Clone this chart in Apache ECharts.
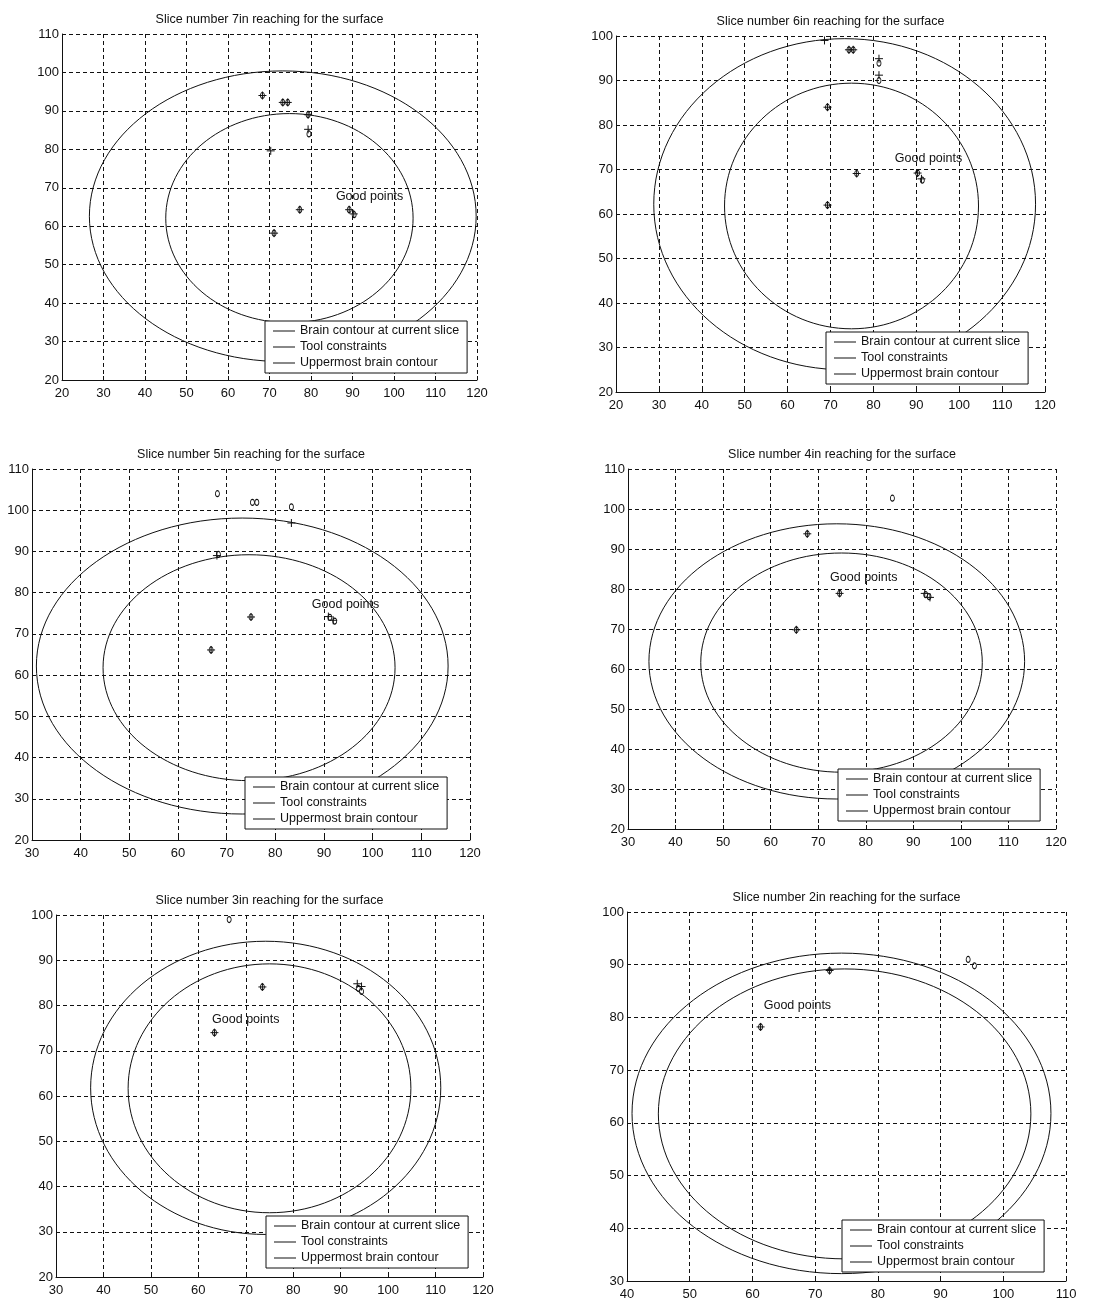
<!DOCTYPE html>
<html>
<head>
<meta charset="utf-8">
<script src="https://cdn.jsdelivr.net/npm/echarts@6/dist/echarts.min.js"></script>
<style>
html,body{margin:0;padding:0;background:#fff;}
#chart{width:1108px;height:1301px;}
</style>
</head>
<body>
<div id="chart"></div>
<script>
// ---------- data ----------
const panelTitles = [
  'Slice number 7in reaching for the surface',
  'Slice number 6in reaching for the surface',
  'Slice number 5in reaching for the surface',
  'Slice number 4in reaching for the surface',
  'Slice number 3in reaching for the surface',
  'Slice number 2in reaching for the surface'
];
const xRanges = [[20, 120], [20, 120], [30, 120], [30, 120], [30, 120], [40, 110]];
const yRanges = [[20, 110], [20, 100], [20, 110], [20, 110], [20, 100], [30, 100]];

// contours: [centre x, centre y, half width, half height]
const currentSliceContours = [
  [73.2, 62.6, 46.6, 37.8],
  [73.3, 62.2, 44.5, 37.2],
  [73.2, 62.2, 42.3, 35.9],
  [73.9, 61.9, 39.5, 34.4],
  [74.2, 61.8, 36.9, 32.4],
  [74.2, 61.8, 33.4, 30.4]
];
const uppermostContours = [
  [74.8, 62.1, 29.8, 27.2],
  [74.9, 61.8, 29.6, 27.6],
  [74.6, 61.8, 30.0, 27.4],
  [74.9, 61.6, 29.6, 27.4],
  [75.0, 61.7, 29.8, 27.5],
  [74.7, 61.7, 29.7, 27.5]
];

const plusPoints = [
  [[68.3, 94.0], [73.2, 92.2], [74.4, 92.2], [79.3, 89.0], [79.3, 85.2], [70.3, 79.6], [77.3, 64.3], [89.2, 64.3], [90.3, 63.2], [71.1, 58.2]],
  [[68.6, 99.0], [74.3, 96.9], [75.3, 96.9], [81.3, 94.9], [81.3, 91.2], [69.3, 84.0], [76.1, 69.1], [90.3, 69.2], [91.2, 67.9], [69.3, 62.0]],
  [[83.3, 96.9], [68.0, 89.0], [75.0, 74.1], [90.9, 74.2], [91.9, 73.3], [66.8, 66.1]],
  [[67.7, 93.8], [74.5, 78.9], [92.4, 78.9], [93.5, 77.9], [65.4, 69.8]],
  [[73.5, 84.1], [93.5, 84.8], [94.4, 84.2], [63.4, 74.0]],
  [[72.3, 88.9], [61.3, 78.2]]
];
const circlePoints = [
  [[68.3, 94.0], [73.2, 92.2], [74.4, 92.2], [79.3, 89.0], [79.5, 84.0], [77.3, 64.3], [89.2, 64.3], [90.4, 63.0], [71.1, 58.2]],
  [[74.3, 96.9], [75.3, 96.9], [81.3, 93.9], [81.3, 90.0], [69.3, 84.0], [76.1, 69.1], [90.3, 69.2], [91.4, 67.6], [69.3, 62.0]],
  [[68.1, 104.0], [75.3, 101.9], [76.2, 101.9], [83.3, 100.8], [68.3, 89.3], [75.0, 74.1], [91.2, 74.0], [92.2, 73.1], [66.8, 66.1]],
  [[85.6, 102.7], [67.7, 93.8], [74.5, 78.9], [92.6, 78.6], [93.3, 78.1], [65.4, 69.8]],
  [[66.5, 99.0], [93.7, 83.8], [94.4, 83.1], [73.5, 84.1], [63.4, 74.0]],
  [[94.4, 91.0], [95.4, 89.8], [72.3, 88.9], [61.3, 78.2]]
];
const goodPointsLabelPos = [[86.0, 67.7], [85.0, 72.4], [87.5, 77.1], [72.5, 82.8], [62.9, 77.0], [61.8, 82.2]];
const goodPointsText = 'Good points';
const legendNames = ['Brain contour at current slice', 'Tool constraints', 'Uppermost brain contour'];

// ---------- layout ----------
const grids = [
  {left: 62, top: 34, width: 415, height: 346},
  {left: 616, top: 36, width: 429, height: 356},
  {left: 32, top: 469, width: 438, height: 371},
  {left: 628, top: 469, width: 428, height: 360},
  {left: 56, top: 915, width: 427, height: 362},
  {left: 627, top: 912, width: 439, height: 371}
];
const titleTops = [13, 15, 448, 448, 894, 891];
const legendBoxes = [
  {left: 265, top: 321},
  {left: 826, top: 332},
  {left: 245, top: 777},
  {left: 838, top: 769},
  {left: 266, top: 1216},
  {left: 842, top: 1220}
];

const FONT = '"Liberation Sans", Arial, Helvetica, sans-serif';
const INK = '#111';

const chart = echarts.init(document.getElementById('chart'), null, {renderer: 'canvas'});

function ellipseRender(params, api) {
  const c = api.coord([api.value(0), api.value(1)]);
  const s = api.size([api.value(2), api.value(3)]);
  return {
    type: 'ellipse',
    shape: {cx: c[0], cy: c[1], rx: s[0], ry: s[1]},
    style: {fill: 'none', stroke: INK, lineWidth: 1}
  };
}

const option = {
  backgroundColor: '#fff',
  animation: false,
  title: [], grid: [], xAxis: [], yAxis: [], legend: [], series: []
};

for (let i = 0; i < 6; i++) {
  const g = grids[i];
  option.grid.push({left: g.left, top: g.top, width: g.width, height: g.height, containLabel: false});
  option.title.push({
    text: panelTitles[i], left: g.left + g.width / 2, top: titleTops[i], textAlign: 'center', padding: 0,
    textStyle: {fontFamily: FONT, fontSize: 12.5, fontWeight: 'normal', color: INK}
  });
  const axisCommon = {
    type: 'value', interval: 10,
    axisLine: {show: true, onZero: false, lineStyle: {color: INK, width: 1}},
    axisTick: {show: true, inside: true, length: 4, lineStyle: {color: INK}},
    splitLine: {show: true, lineStyle: {color: INK, width: 1, type: [4, 3]}}
  };
  option.xAxis.push(Object.assign({}, axisCommon, {gridIndex: i, min: xRanges[i][0], max: xRanges[i][1],
    axisLabel: {fontFamily: FONT, fontSize: 13, color: INK, margin: 7}}));
  option.yAxis.push(Object.assign({}, axisCommon, {gridIndex: i, min: yRanges[i][0], max: yRanges[i][1],
    axisLabel: {fontFamily: FONT, fontSize: 13, color: INK, margin: 3}}));

  option.series.push({
    name: legendNames[0], type: 'custom', xAxisIndex: i, yAxisIndex: i,
    renderItem: ellipseRender, encode: {x: 0, y: 1}, itemStyle: {color: INK},
    data: [currentSliceContours[i]], silent: true, z: 2
  });
  option.series.push({
    name: legendNames[1], type: 'custom', xAxisIndex: i, yAxisIndex: i,
    renderItem: ellipseRender, encode: {x: 0, y: 1}, itemStyle: {color: INK},
    data: [], silent: true, z: 2
  });
  option.series.push({
    name: legendNames[2], type: 'custom', xAxisIndex: i, yAxisIndex: i,
    renderItem: ellipseRender, encode: {x: 0, y: 1}, itemStyle: {color: INK},
    data: [uppermostContours[i]], silent: true, z: 2
  });
  option.series.push({
    name: 'plus' + i, type: 'scatter', xAxisIndex: i, yAxisIndex: i,
    symbol: 'path://M0,5L10,5M5,0L5,10', symbolSize: [8, 8],
    itemStyle: {color: 'none', borderColor: INK, borderWidth: 1, opacity: 1},
    data: plusPoints[i], silent: true, z: 3
  });
  option.series.push({
    name: 'circle' + i, type: 'scatter', xAxisIndex: i, yAxisIndex: i,
    symbol: 'circle', symbolSize: [4, 6],
    itemStyle: {color: 'transparent', borderColor: INK, borderWidth: 1, opacity: 1},
    data: circlePoints[i], silent: true, z: 3
  });
  option.series.push({
    name: 'label' + i, type: 'scatter', xAxisIndex: i, yAxisIndex: i,
    symbolSize: 0, silent: true, z: 4,
    itemStyle: {opacity: 1},
    label: {show: true, formatter: goodPointsText, position: 'right', distance: 0,
      fontFamily: FONT, fontSize: 12.5, color: INK, opacity: 1},
    data: [goodPointsLabelPos[i]]
  });
  option.legend.push({
    left: legendBoxes[i].left, top: legendBoxes[i].top, orient: 'vertical',
    data: legendNames, icon: 'rect', itemWidth: 22, itemHeight: 1, itemGap: 0,
    selectedMode: false, backgroundColor: '#fff', borderColor: INK, borderWidth: 1,
    borderRadius: 0, padding: [2, 8, 2, 8],
    textStyle: {fontFamily: FONT, fontSize: 12.5, color: INK, lineHeight: 16}
  });
}

chart.setOption(option);
</script>
</body>
</html>
